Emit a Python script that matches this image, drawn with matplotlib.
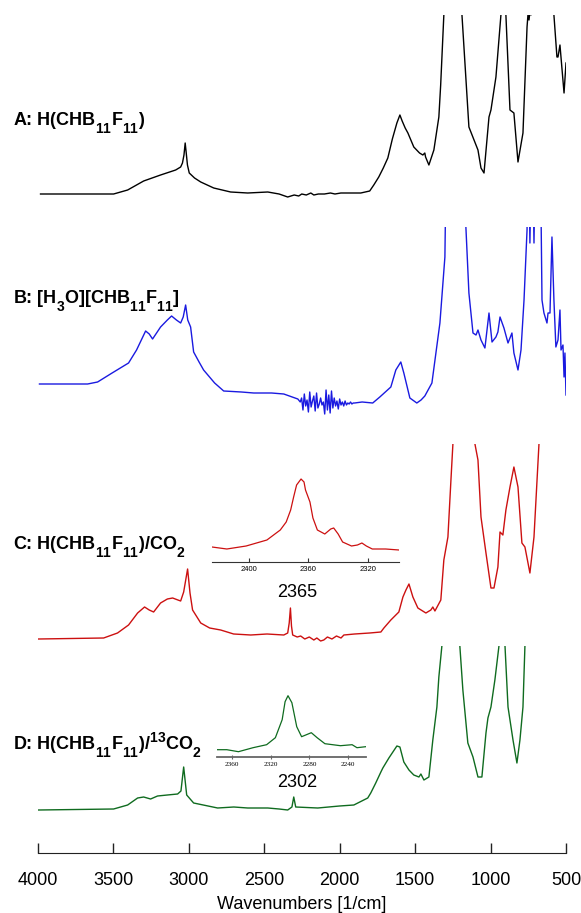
import matplotlib.pyplot as plt
import matplotlib._mathtext as mathtext_mod

W, H = 581, 913

# spectrum A: H(CHB11F11), heights (arb. units)
wn_a = [3980, 3700, 3496, 3403, 3297, 3185, 3085, 3052, 3040, 3030, 3022, 3015, 3007,
        2995, 2960, 2919, 2833, 2721, 2608, 2475, 2400, 2343, 2300, 2270, 2250, 2220,
        2190, 2170, 2140, 2100, 2060, 2030, 1991, 1859, 1800, 1773, 1740, 1710, 1680,
        1650, 1620, 1600, 1585, 1565, 1547, 1508, 1470, 1448, 1435, 1430, 1408, 1375,
        1360, 1342, 1330, 1309, 1280, 1220, 1189, 1143, 1083, 1063, 1043, 1010, 997,
        964, 931, 915, 898, 871, 845, 818, 785, 758, 752, 745, 738, 732, 720, 600, 580,
        560, 553, 540, 513, 500]
ab_a = [21, 21, 21, 25, 34, 40, 45, 48, 52, 60, 72, 62, 50,
        42, 37, 33, 27, 23, 22, 23, 21, 18, 20, 19, 21, 20,
        22, 20, 21, 21, 22, 21, 22, 22, 24, 30, 38, 47, 57,
        76, 92, 100, 94, 87, 82, 68, 62, 60, 62, 58, 50, 65,
        80, 98, 130, 200, 400, 400, 200, 88, 65, 47, 42, 98, 105,
        138, 200, 400, 200, 105, 102, 53, 82, 188, 200, 195, 205, 200, 400, 400, 200,
        158, 158, 170, 122, 152]

# spectrum B: [H3O][CHB11F11]
wn_b = [3987, 3668, 3602, 3506, 3397, 3344, 3284, 3260, 3238, 3185, 3140, 3112, 3080,
        3052, 3035, 3019, 3005, 2986, 2966, 2930, 2900, 2827, 2767, 2650, 2568, 2450,
        2369, 2276, 2260, 2251, 2242, 2233, 2224, 2215, 2206, 2197, 2188, 2179, 2170,
        2161, 2152, 2143, 2134, 2125, 2116, 2107, 2098, 2089, 2080, 2071, 2062, 2053,
        2044, 2035, 2026, 2017, 2008, 1999, 1990, 1981, 1972, 1963, 1954, 1945, 1936,
        1927, 1918, 1909, 1900, 1850, 1780, 1733, 1660, 1627, 1594, 1574, 1534, 1488,
        1460, 1435, 1388, 1335, 1302, 1290, 1170, 1163, 1143, 1116, 1096, 1083, 1063,
        1037, 1010, 990, 964, 951, 937, 911, 884, 858, 845, 818, 798, 778, 758, 750,
        739, 725, 712, 700, 672, 659, 646, 626, 619, 606, 593, 580, 567, 553, 540, 533,
        520, 513, 507, 500]
ab_b = [36, 36, 38, 47, 57, 70, 89, 86, 81, 93, 100, 104, 100,
        97, 103, 115, 100, 93, 68, 58, 50, 37, 29, 28, 27, 27,
        26, 21, 18, 22, 10, 26, 14, 20, 8, 28, 13, 19, 24,
        9, 27, 12, 16, 22, 15, 18, 6, 30, 10, 25, 7, 29,
        12, 22, 14, 19, 11, 21, 15, 18, 14, 19, 15, 17, 16,
        18, 16, 17, 17, 18, 17, 23, 33, 50, 58, 47, 22, 17,
        20, 24, 37, 97, 163, 300, 300, 193, 127, 87, 85, 90, 80,
        72, 107, 78, 83, 88, 103, 92, 77, 87, 67, 50, 70, 120, 190, 300,
        177, 300, 177, 300, 300, 120, 107, 97, 107, 107, 183, 120, 73, 80, 110, 70,
        75, 43, 67, 25]

# spectrum C: H(CHB11F11)/CO2
wn_c = [3993, 3562, 3470, 3397, 3337, 3291, 3260, 3231, 3185, 3140, 3105, 3070, 3052,
        3032, 3006, 2990, 2973, 2919, 2860, 2787, 2701, 2588, 2480, 2369, 2343, 2333,
        2325, 2318, 2310, 2280, 2257, 2230, 2200, 2170, 2150, 2125, 2104, 2080, 2050,
        2020, 1990, 1971, 1900, 1800, 1726, 1706, 1660, 1607, 1580, 1560, 1540, 1514,
        1481, 1428, 1395, 1382, 1368, 1329, 1309, 1282, 1262, 1249, 1240, 1110, 1103,
        1083, 1063, 1030, 997, 977, 951, 937, 918, 898, 871, 845, 818, 792, 772, 739,
        712, 679, 670, 500]
ab_c = [9, 10, 15, 23, 35, 41, 38, 36, 45, 49, 50, 48, 47,
        56, 79, 55, 38, 25, 20, 18, 14, 13, 14, 13, 15, 25,
        40, 22, 13, 11, 12, 9, 11, 8, 10, 7, 8, 11, 9,
        12, 10, 13, 14, 15, 16, 20, 28, 36, 51, 58, 64, 51,
        40, 35, 38, 41, 37, 48, 88, 111, 168, 204, 400, 400, 204,
        188, 131, 95, 60, 60, 81, 116, 113, 138, 161, 181, 161, 105, 101, 75,
        111, 204, 400, 400]

# spectrum D: H(CHB11F11)/13CO2
wn_d = [3993, 3496, 3403, 3337, 3297, 3251, 3205, 3140, 3072, 3050, 3032, 3012, 2966,
        2807, 2700, 2608, 2475, 2400, 2343, 2315, 2303, 2290, 2144, 2000, 1905, 1813,
        1793, 1760, 1726, 1713, 1673, 1620, 1600, 1574, 1540, 1508, 1474, 1461, 1441,
        1408, 1382, 1355, 1342, 1322, 1310, 1210, 1203, 1183, 1150, 1116, 1083, 1057,
        1030, 1017, 997, 971, 944, 935, 910, 904, 884, 871, 851, 825, 805, 785, 772,
        765, 500]
ab_d = [43, 44, 48, 55, 56, 54, 57, 58, 59, 62, 86, 58, 50,
        45, 46, 45, 45, 44, 43, 46, 56, 46, 45, 47, 48, 55,
        60, 70, 81, 85, 95, 107, 106, 91, 83, 78, 76, 79, 73,
        76, 113, 146, 176, 207, 400, 400, 207, 163, 110, 96, 76, 76,
        120, 135, 146, 173, 207, 400, 400, 207, 146, 133, 113, 90, 113, 146, 207,
        400, 400]

# inset of C around the CO2 band
wn_ci = [2425, 2415, 2402, 2388, 2379, 2375, 2372, 2370, 2368, 2365, 2363, 2362, 2359,
         2357, 2354, 2349, 2345, 2343, 2340, 2337, 2331, 2327, 2324, 2321, 2317, 2308, 2299]
ab_ci = [15, 13, 16, 22, 32, 40, 52, 65, 77, 83, 80, 72, 60,
         44, 32, 28, 33, 34, 28, 20, 16, 17, 19, 16, 13, 13, 12]

# inset of D around the 13CO2 band
wn_di = [2375, 2365, 2353, 2338, 2324, 2315, 2308, 2305, 2302, 2298, 2293, 2288, 2283,
         2278, 2272, 2264, 2248, 2236, 2231, 2222]
ab_di = [7, 7, 5, 9, 12, 19, 37, 55, 61, 54, 30, 20, 22,
         24, 19, 13, 11, 12, 9, 10]

labels = [r'A: H(CHB$_{\mathbf{11}}$F$_{\mathbf{11}}$)',
          r'B: [H$_{\mathbf{3}}$O][CHB$_{\mathbf{11}}$F$_{\mathbf{11}}$]',
          r'C: H(CHB$_{\mathbf{11}}$F$_{\mathbf{11}}$)/CO$_{\mathbf{2}}$',
          r'D: H(CHB$_{\mathbf{11}}$F$_{\mathbf{11}}$)/$^{\mathbf{13}}$CO$_{\mathbf{2}}$']
colors = ['black', '#1a1ae0', '#cc1010', '#0f6b1f']
main_ticks = [4000, 3500, 3000, 2500, 2000, 1500, 1000, 500]
ci_ticks = [2400, 2360, 2320]
di_ticks = [2360, 2320, 2280, 2240]

plt.rcParams['font.family'] = 'Liberation Sans'
plt.rcParams['mathtext.fontset'] = 'custom'
plt.rcParams['mathtext.rm'] = 'Liberation Sans'
plt.rcParams['mathtext.bf'] = 'Liberation Sans:bold'

# the original labels use larger, lower subscripts than mathtext's default
try:
    mathtext_mod.FontConstantsBase.sub1 = 0.8
    mathtext_mod.SHRINK_FACTOR = 0.77
except AttributeError:
    pass


def px_box(left, top, right, bottom):
    return [left / W, 1 - bottom / H, (right - left) / W, (bottom - top) / H]


def bare(ax):
    ax.set_facecolor('none')
    for s in ax.spines.values():
        s.set_visible(False)
    ax.set_yticks([])


fig = plt.figure(figsize=(W / 100, H / 100), dpi=100)

# panel extents in pixels (top, bottom) and label baselines
extents = [(15, 215), (227, 420), (444, 648), (646, 853)]
label_y = [125, 303, 549, 750]
spectra = [(wn_a, ab_a), (wn_b, ab_b), (wn_c, ab_c), (wn_d, ab_d)]

for i, ((wn, ab), (top, bot)) in enumerate(zip(spectra, extents)):
    ax = fig.add_axes(px_box(37.5, top, 566, bot))
    ax.plot(wn, ab, color=colors[i], lw=1.0)
    ax.set_xlim(4000, 500)
    ax.set_ylim(0, bot - top)
    bare(ax)
    if i < 3:
        ax.set_xticks([])
    else:
        ax.spines['bottom'].set_visible(True)
        ax.spines['bottom'].set_color('#222222')
        ax.set_xticks(main_ticks)
        ax.set_xticklabels([str(t) for t in main_ticks])
        ax.tick_params(axis='x', direction='in', length=7, width=1, color='#222222',
                       labelsize=13, pad=14)
        ax.set_xlabel('Wavenumbers [1/cm]', fontsize=13, labelpad=4.5)
    fig.text(13 / W, 1 - label_y[i] / H, labels[i], fontsize=13, fontweight='bold',
             ha='left', va='baseline')

# inset C
axc = fig.add_axes(px_box(212, 470, 399, 562))
axc.plot(wn_ci, ab_ci, color=colors[2], lw=0.9)
axc.set_xlim(2425, 2299)
axc.set_ylim(0, 92)
bare(axc)
axc.spines['bottom'].set_visible(True)
axc.spines['bottom'].set_color('#333333')
axc.set_xticks(ci_ticks)
axc.tick_params(axis='x', direction='in', length=3, width=0.8, color='#333333',
                labelsize=5.5, pad=3)
fig.text(297 / W, 1 - 592 / H, '2365', fontsize=13, ha='center', va='center')

# inset D
axd = fig.add_axes(px_box(216.7, 690, 365.7, 756.7))
axd.plot(wn_di, ab_di, color=colors[3], lw=0.9)
axd.set_xlim(2375.4, 2222)
axd.set_ylim(0, 66.7)
bare(axd)
axd.spines['bottom'].set_visible(True)
axd.spines['bottom'].set_color('#666666')
axd.spines['bottom'].set_linewidth(1.3)
axd.set_xticks(di_ticks)
axd.tick_params(axis='x', direction='inout', length=3, width=0.8, color='#666666',
                labelsize=5.2, pad=2)
for lab in axd.get_xticklabels():
    lab.set_fontfamily('Liberation Serif')
fig.text(297 / W, 1 - 782 / H, '2302', fontsize=13, ha='center', va='center')

fig.savefig('out.png', dpi=100)
